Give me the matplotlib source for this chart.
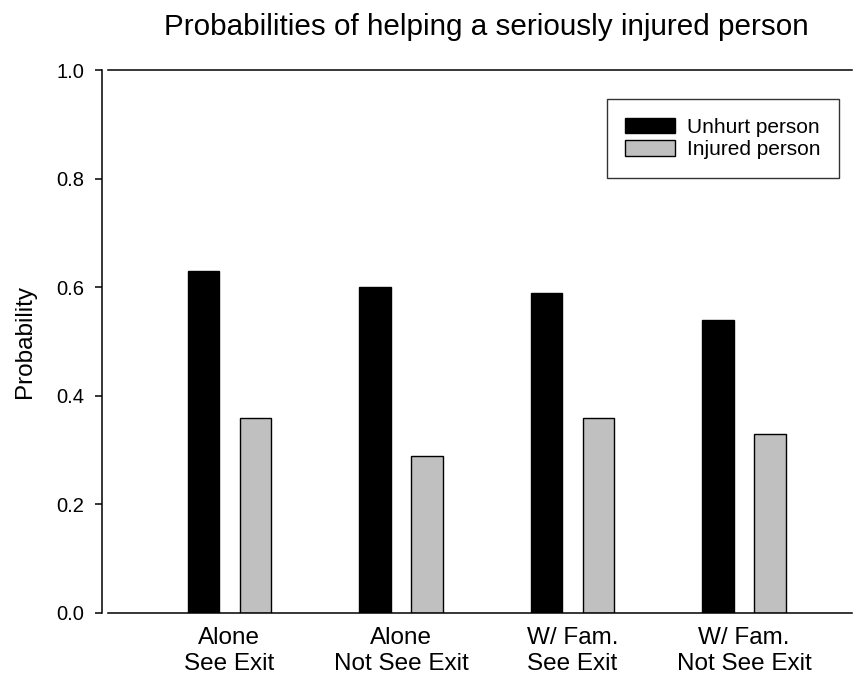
import matplotlib
matplotlib.use("Agg")
import matplotlib.pyplot as plt
import numpy as np

plt.rcParams['font.family'] = ['Liberation Sans', 'DejaVu Sans']

# data
categories = ["Alone\nSee Exit", "Alone\nNot See Exit", "W/ Fam.\nSee Exit", "W/ Fam.\nNot See Exit"]
unhurt = [0.63, 0.60, 0.59, 0.54]
injured = [0.36, 0.29, 0.36, 0.33]
yticks = [0.0, 0.2, 0.4, 0.6, 0.8, 1.0]

fig = plt.figure(figsize=(8.55, 6.75), dpi=100)
ax = fig.add_axes([108 / 855, 1 - 613 / 675, 744 / 855, 543 / 675])

x = np.arange(len(categories))
w = 0.184
off = 0.152
ax.bar(x - off, unhurt, w, color='black', edgecolor='black', linewidth=1.0,
       label='Unhurt person')
ax.bar(x + off, injured, w, color='#c0c0c0', edgecolor='black', linewidth=1.0,
       label='Injured person')

ax.set_xlim(-0.708, 3.63)
ax.set_ylim(0, 1.0)
ax.set_yticks(yticks)
ax.set_yticklabels(['{:.1f}'.format(t) for t in yticks])
ax.set_xticks(x)
ax.set_xticklabels(categories, linespacing=1.25)
ax.tick_params(axis='x', length=0, pad=10, labelsize=17.5)
ax.tick_params(axis='y', direction='out', length=5, width=1.1, pad=8, labelsize=14.5)

ax.spines['right'].set_visible(False)
ax.spines['left'].set_position(('outward', 4))
for s in ['left', 'top', 'bottom']:
    ax.spines[s].set_linewidth(1.1)

ax.set_ylabel('Probability', fontsize=17.5, labelpad=15)
ax.set_title('Probabilities of helping a seriously injured person', fontsize=21.3,
             pad=25, x=0.508)

leg = ax.legend(loc='upper right', bbox_to_anchor=(0.9825, 0.9466), fontsize=15,
                frameon=True, fancybox=False, edgecolor='black',
                handlelength=2.4, handleheight=0.78, handletextpad=0.55,
                labelspacing=0.15, borderpad=0.9, borderaxespad=0)
leg.get_frame().set_linewidth(1.0)

fig.savefig('out.png', dpi=100)
